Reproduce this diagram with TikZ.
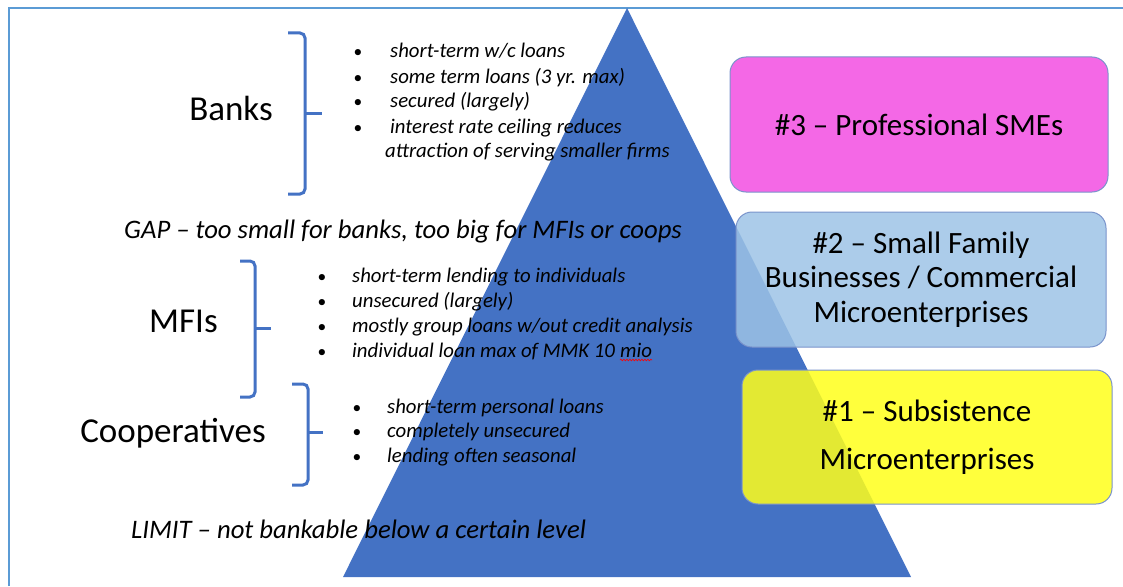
\documentclass[tikz,border=0pt]{standalone}
\usepackage{fontspec}
\setmainfont{Carlito}
\usetikzlibrary{decorations.pathmorphing}
\definecolor{frameblue}{HTML}{5B9BD5}
\definecolor{tri}{HTML}{4472C4}
\definecolor{bracecol}{HTML}{4472C4}
\definecolor{pinkbox}{HTML}{F468E6}
\definecolor{bluebox}{HTML}{9DC3E6}
\definecolor{yellowbox}{HTML}{FFFF1A}
\definecolor{boxedge}{HTML}{7A93CB}
\tikzset{
  tier/.style={draw=boxedge, line width=1pt, rounded corners=16pt, align=center,
    font=\fontsize{31}{34.5}\selectfont, inner sep=0pt},
  label/.style={font=\fontsize{35}{40}\selectfont, inner sep=0pt, anchor=base},
  bul/.style={font=\fontsize{20.8}{25}\selectfont\itshape, inner sep=0pt, anchor=base west},
  dot/.style={font=\fontsize{17.5}{25}\selectfont, inner sep=0pt, anchor=base},
  note/.style={font=\fontsize{26.7}{30}\selectfont\itshape, inner sep=0pt, anchor=base west},
  bracket/.style={draw=bracecol, line width=3pt, rounded corners=5pt},
  bracetip/.style={draw=bracecol, line width=3pt}
}
\begin{document}
\begin{tikzpicture}[x=1pt,y=-1pt]
\useasboundingbox (0,0) rectangle (1123,586);
% frame
\draw[frameblue, line width=2.2pt] (9,586) -- (9,8) -- (1123,8);
% pyramid
\fill[tri] (627,8) -- (911,577) -- (343,577) -- cycle;

% tier boxes
\node[tier, fill=pinkbox, minimum width=378pt, minimum height=135pt] (t3) at (919,124.5) {\#3 -- Professional SMEs};
\node[tier, fill=bluebox, fill opacity=0.85, text opacity=1, minimum width=370pt, minimum height=135pt] (t2) at (921,279.5) {\#2 -- Small Family\\Businesses / Commercial\\Microenterprises};
\node[tier, fill=yellowbox, fill opacity=0.85, text opacity=1, minimum width=370pt, minimum height=134pt, font=\fontsize{31}{48}\selectfont] (t1) at (927,437) {\#1 -- Subsistence\\Microenterprises};

% labels
\node[label] (banks) at (231,120) {Banks};
\node[label] (mfis) at (183.5,332) {MFIs};
\node[label] (coops) at (173,442) {Cooperatives};

% braces
\draw[bracket] (288,33) -- (305,33) -- (305,194) -- (288,194);
\draw[bracetip] (305,113) -- (322,113);
\draw[bracket] (240,261) -- (255,261) -- (255,397) -- (240,397);
\draw[bracetip] (255,328) -- (271,328);
\draw[bracket] (292,384) -- (308,384) -- (308,485) -- (292,485);
\draw[bracetip] (308,432) -- (323,432);

% banks list
\node[dot] (bd1) at (358,58) {•};
\node[dot] (bd2) at (358,83) {•};
\node[dot] (bd3) at (358,107) {•};
\node[dot] (bd4) at (358,133) {•};
\node[bul] (b1) at (390,58) {short-term w/c loans};
\node[bul] (b2) at (390,83) {some term loans (3 yr. max)};
\node[bul] (b3) at (390,107) {secured (largely)};
\node[bul] (b4) at (390,133) {interest rate ceiling reduces};
\node[bul] (b5) at (385,157) {attraction of serving smaller firms};

% gap
\node[note] (gap) at (124,238) {GAP -- too small for banks, too big for MFIs or coops};

% MFI list
\node[dot] (md1) at (322,282) {•};
\node[dot] (md2) at (322,307) {•};
\node[dot] (md3) at (322,332) {•};
\node[dot] (md4) at (322,357) {•};
\node[bul] (m1) at (352,282) {short-term lending to individuals};
\node[bul] (m2) at (352,307) {unsecured (largely)};
\node[bul] (m3) at (352,332) {mostly group loans w/out credit analysis};
\node[bul] (m4) at (352,357) {individual loan max of MMK 10};
\node[bul, xshift=4.7pt] (mio) at (m4.base east) {mio};
\draw[red, line width=0.6pt, decorate, decoration={snake, amplitude=0.9pt, segment length=3pt}]
  ([yshift=-3pt]mio.base west) -- ([yshift=-3pt]mio.base east);

% coop list
\node[dot] (cd1) at (357,413) {•};
\node[dot] (cd2) at (357,437) {•};
\node[dot] (cd3) at (357,462) {•};
\node[bul] (c1) at (387,413) {short-term personal loans};
\node[bul] (c2) at (387,437) {completely unsecured};
\node[bul] (c3) at (387,462) {lending often seasonal};

% limit
\node[note] (limit) at (131,538) {LIMIT -- not bankable below a certain level};
\end{tikzpicture}
\end{document}
